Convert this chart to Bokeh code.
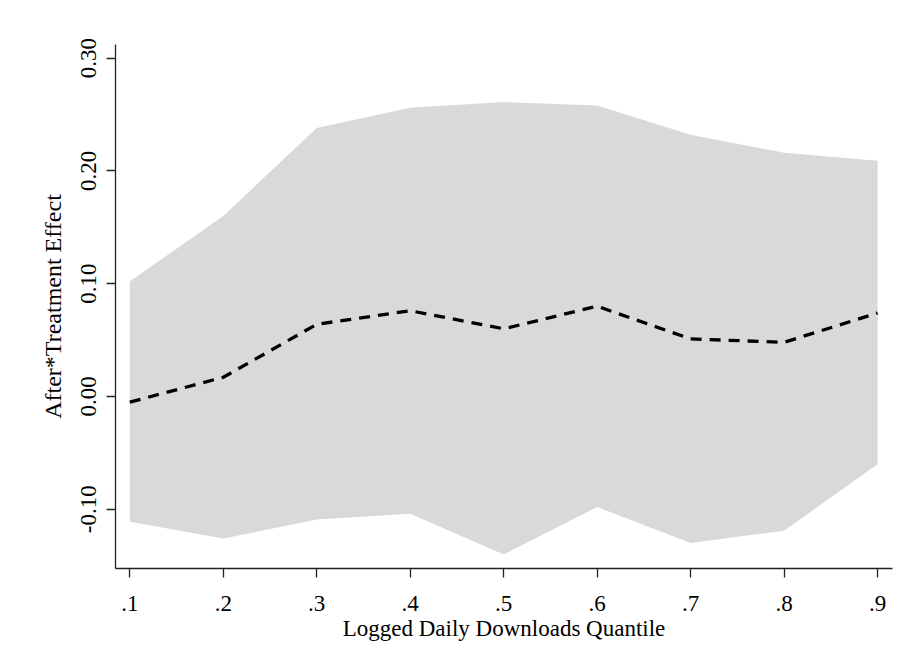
from bokeh.plotting import figure
from bokeh.models import Range1d, FixedTicker
from bokeh.embed import file_html
from bokeh.resources import INLINE

quantiles = [0.1, 0.2, 0.3, 0.4, 0.5, 0.6, 0.7, 0.8, 0.9]
effect = [-0.005, 0.017, 0.064, 0.076, 0.060, 0.080, 0.051, 0.048, 0.074]
upper = [0.102, 0.160, 0.238, 0.256, 0.261, 0.258, 0.232, 0.216, 0.209]
lower = [-0.111, -0.126, -0.109, -0.104, -0.140, -0.098, -0.130, -0.119, -0.060]

x_ticks = [0.1, 0.2, 0.3, 0.4, 0.5, 0.6, 0.7, 0.8, 0.9]
x_tick_labels = [".1", ".2", ".3", ".4", ".5", ".6", ".7", ".8", ".9"]
y_ticks = [-0.1, 0.0, 0.1, 0.2, 0.3]
y_tick_labels = ["-0.10", "0.00", "0.10", "0.20", "0.30"]

FONT = "Liberation Serif"

p = figure(width=918, height=672, output_backend="svg", toolbar_location=None,
           x_range=Range1d(0.0847, 0.916), y_range=Range1d(-0.1525, 0.312),
           min_border_left=115, min_border_right=26, min_border_top=44,
           min_border_bottom=104)
p.outline_line_color = None
p.xgrid.visible = False
p.ygrid.visible = False
p.background_fill_color = "white"
p.border_fill_color = "white"

p.varea(x=quantiles, y1=lower, y2=upper, fill_color="#d9d9d9", fill_alpha=1.0)
p.line(quantiles, effect, line_color="black", line_width=3.3, line_dash="11 8")

p.xaxis.ticker = FixedTicker(ticks=x_ticks)
p.xaxis.major_label_overrides = {t: l for t, l in zip(x_ticks, x_tick_labels)}
p.yaxis.ticker = FixedTicker(ticks=y_ticks)
p.yaxis.major_label_overrides = {t: l for t, l in zip(y_ticks, y_tick_labels)}
p.yaxis.major_label_orientation = "vertical"

p.xaxis.axis_label = "Logged Daily Downloads Quantile"
p.yaxis.axis_label = "After*Treatment Effect"

for ax in (p.xaxis, p.yaxis):
    ax.axis_line_color = "#222222"
    ax.axis_line_width = 1.3
    ax.major_tick_line_color = "#222222"
    ax.major_tick_line_width = 1.3
    ax.major_tick_out = 9
    ax.major_tick_in = 0
    ax.minor_tick_line_color = None
    ax.major_label_text_font = FONT
    ax.major_label_text_font_size = "23px"
    ax.major_label_text_color = "black"
    ax.axis_label_text_font = FONT
    ax.axis_label_text_font_style = "normal"
    ax.axis_label_text_color = "black"

p.xaxis.axis_label_text_font_size = "23px"
p.yaxis.axis_label_text_font_size = "24px"
p.xaxis.major_label_standoff = 18
p.xaxis.axis_label_standoff = 2
p.yaxis.major_label_standoff = 10
p.yaxis.axis_label_standoff = 13

open("out.html", "w").write(file_html(p, INLINE))
